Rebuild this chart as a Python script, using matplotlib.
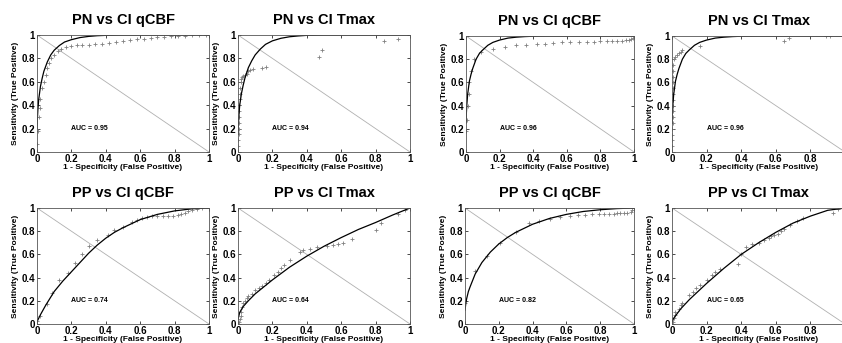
import matplotlib
matplotlib.use("Agg")
from matplotlib import pyplot as plt

plt.rcParams['font.family'] = ['Liberation Sans', 'DejaVu Sans']
plt.rcParams['font.weight'] = 'bold'

titles = ["PN vs CI qCBF", "PN vs CI Tmax", "PN vs CI qCBF", "PN vs CI Tmax",
          "PP vs CI qCBF", "PP vs CI Tmax", "PP vs CI qCBF", "PP vs CI Tmax"]
aucs = ["0.95", "0.94", "0.96", "0.96", "0.74", "0.64", "0.82", "0.65"]

# fitted curves
c1_x = [0, 0.002, 0.005, 0.01, 0.02, 0.03, 0.04, 0.06, 0.08, 0.1, 0.13, 0.16, 0.2, 0.25, 0.3, 0.35, 0.4, 0.5, 1]
c1_y = [0.2, 0.28, 0.36, 0.45, 0.56, 0.63, 0.69, 0.77, 0.83, 0.87, 0.91, 0.94, 0.96, 0.978, 0.988, 0.994, 0.997, 1, 1]
c2_x = [0, 0.002, 0.005, 0.01, 0.02, 0.03, 0.04, 0.06, 0.08, 0.1, 0.13, 0.16, 0.2, 0.25, 0.3, 0.35, 0.4, 0.5, 1]
c2_y = [0.15, 0.23, 0.31, 0.4, 0.5, 0.57, 0.63, 0.72, 0.78, 0.83, 0.88, 0.92, 0.95, 0.972, 0.985, 0.992, 0.997, 1, 1]
c3_x = [0, 0.002, 0.005, 0.01, 0.02, 0.03, 0.04, 0.06, 0.08, 0.1, 0.13, 0.16, 0.2, 0.25, 0.3, 0.35, 0.4, 0.5, 1]
c3_y = [0.25, 0.33, 0.41, 0.5, 0.61, 0.67, 0.72, 0.8, 0.85, 0.88, 0.92, 0.945, 0.965, 0.982, 0.99, 0.995, 0.998, 1, 1]
c4_x = [0, 0.002, 0.005, 0.01, 0.02, 0.03, 0.04, 0.06, 0.08, 0.1, 0.13, 0.16, 0.2, 0.25, 0.3, 0.35, 0.4, 0.5, 1]
c4_y = [0.25, 0.33, 0.41, 0.5, 0.61, 0.67, 0.72, 0.8, 0.85, 0.88, 0.92, 0.945, 0.965, 0.982, 0.99, 0.995, 0.998, 1, 1]
c5_x = [0, 0.01, 0.02, 0.05, 0.1, 0.15, 0.2, 0.25, 0.3, 0.35, 0.4, 0.45, 0.5, 0.6, 0.7, 0.8, 0.9, 1]
c5_y = [0.02, 0.05, 0.08, 0.16, 0.28, 0.37, 0.45, 0.53, 0.61, 0.68, 0.74, 0.79, 0.83, 0.9, 0.945, 0.975, 0.993, 1]
c6_x = [0, 0.005, 0.01, 0.03, 0.06, 0.1, 0.15, 0.2, 0.3, 0.4, 0.5, 0.6, 0.7, 0.8, 0.9, 1]
c6_y = [0.04, 0.07, 0.1, 0.15, 0.2, 0.26, 0.32, 0.38, 0.49, 0.585, 0.67, 0.745, 0.815, 0.875, 0.94, 1]
c7_x = [0, 0.005, 0.01, 0.02, 0.03, 0.06, 0.1, 0.15, 0.2, 0.25, 0.3, 0.4, 0.5, 0.6, 0.7, 0.8, 0.9, 1]
c7_y = [0.12, 0.18, 0.22, 0.28, 0.32, 0.43, 0.53, 0.62, 0.69, 0.745, 0.79, 0.86, 0.91, 0.945, 0.97, 0.985, 0.995, 1]
c8_x = [0, 0.01, 0.02, 0.05, 0.1, 0.2, 0.3, 0.4, 0.5, 0.6, 0.7, 0.8, 0.9, 1]
c8_y = [0.02, 0.05, 0.07, 0.13, 0.21, 0.35, 0.48, 0.6, 0.7, 0.79, 0.87, 0.93, 0.98, 1]

p1_x = [0, 0.005, 0.01, 0.015, 0.02, 0.03, 0.04, 0.05, 0.06, 0.07, 0.08, 0.1, 0.12, 0.14, 0.17, 0.2, 0.23,
        0.26, 0.3, 0.34, 0.38, 0.42, 0.46, 0.5, 0.54, 0.58, 0.62, 0.66, 0.7, 0.74, 0.78, 0.82, 0.86, 0.9, 0.94, 0.98]
p1_y = [0.07, 0.18, 0.3, 0.38, 0.45, 0.55, 0.6, 0.66, 0.72, 0.76, 0.8, 0.83, 0.86, 0.88, 0.9, 0.91, 0.915,
        0.915, 0.915, 0.92, 0.925, 0.93, 0.94, 0.95, 0.96, 0.965, 0.97, 0.975, 0.98, 0.985, 0.99, 0.99, 0.995, 0.997, 1, 1]
p2_x = [0, 0, 0.002, 0.003, 0.004, 0.005, 0.006, 0.007, 0.008, 0.01, 0.012, 0.014, 0.016, 0.02, 0.025, 0.03,
        0.04, 0.05, 0.06, 0.07, 0.09, 0.14, 0.16, 0.47, 0.49, 0.85, 0.93, 1.0]
p2_y = [0, 0.05, 0.1, 0.15, 0.2, 0.25, 0.3, 0.35, 0.4, 0.45, 0.5, 0.55, 0.6, 0.62, 0.64, 0.65,
        0.66, 0.67, 0.69, 0.7, 0.71, 0.715, 0.73, 0.81, 0.87, 0.95, 0.97, 1.0]
p3_x = [0, 0.005, 0.01, 0.015, 0.02, 0.03, 0.05, 0.09, 0.16, 0.23, 0.3, 0.36, 0.42, 0.47, 0.52, 0.57, 0.62,
        0.67, 0.72, 0.76, 0.8, 0.84, 0.87, 0.9, 0.93, 0.95, 0.97, 0.985, 0.993, 1.0]
p3_y = [0.18, 0.28, 0.4, 0.5, 0.6, 0.7, 0.8, 0.86, 0.885, 0.905, 0.92, 0.925, 0.93, 0.935, 0.94, 0.945, 0.945,
        0.948, 0.95, 0.95, 0.953, 0.955, 0.957, 0.96, 0.96, 0.962, 0.965, 0.97, 0.98, 1.0]
p4_x = [0, 0, 0, 0.002, 0.002, 0.003, 0.003, 0.004, 0.004, 0.005, 0.005, 0.006, 0.006, 0.007, 0.008, 0.008,
        0.01, 0.02, 0.03, 0.04, 0.05, 0.06, 0.16, 0.645, 0.675, 0.89, 0.915]
p4_y = [0, 0.05, 0.1, 0.15, 0.2, 0.25, 0.3, 0.35, 0.4, 0.45, 0.5, 0.55, 0.6, 0.65, 0.7, 0.75,
        0.8, 0.82, 0.84, 0.85, 0.86, 0.88, 0.91, 0.96, 0.985, 1.0, 1.0]
p5_x = [0, 0.02, 0.06, 0.09, 0.13, 0.18, 0.22, 0.26, 0.3, 0.35, 0.41, 0.45, 0.5, 0.55, 0.58, 0.61, 0.64, 0.67,
        0.7, 0.73, 0.76, 0.79, 0.82, 0.84, 0.86, 0.88, 0.9, 0.93, 0.96, 1.0]
p5_y = [0.03, 0.07, 0.17, 0.27, 0.38, 0.44, 0.53, 0.6, 0.67, 0.72, 0.77, 0.81, 0.84, 0.88, 0.9, 0.91, 0.92, 0.93,
        0.935, 0.935, 0.935, 0.935, 0.94, 0.95, 0.96, 0.975, 0.985, 0.99, 1.0, 1.0]
p6_x = [0, 0.005, 0.01, 0.015, 0.02, 0.025, 0.03, 0.04, 0.05, 0.06, 0.08, 0.1, 0.12, 0.14, 0.16, 0.18, 0.21, 0.23,
        0.25, 0.27, 0.3, 0.36, 0.38, 0.42, 0.46, 0.52, 0.55, 0.58, 0.61, 0.66, 0.8, 0.83, 0.93, 0.97, 1.0]
p6_y = [0, 0.02, 0.04, 0.07, 0.1, 0.15, 0.18, 0.2, 0.22, 0.24, 0.26, 0.29, 0.31, 0.33, 0.35, 0.38, 0.42, 0.45,
        0.48, 0.51, 0.55, 0.62, 0.64, 0.65, 0.66, 0.67, 0.68, 0.69, 0.7, 0.73, 0.81, 0.87, 0.95, 0.98, 1.0]
p7_x = [0, 0.06, 0.13, 0.21, 0.3, 0.38, 0.44, 0.5, 0.56, 0.62, 0.67, 0.71, 0.75, 0.79, 0.82, 0.85, 0.88, 0.9,
        0.92, 0.94, 0.96, 0.98, 0.99, 1.0]
p7_y = [0.18, 0.46, 0.59, 0.7, 0.79, 0.87, 0.89, 0.905, 0.92, 0.93, 0.94, 0.94, 0.945, 0.945, 0.948, 0.95, 0.952,
        0.955, 0.957, 0.958, 0.96, 0.965, 0.98, 1.0]
p8_x = [0, 0.005, 0.01, 0.015, 0.02, 0.04, 0.05, 0.06, 0.1, 0.12, 0.14, 0.16, 0.2, 0.23, 0.25, 0.28, 0.38, 0.4,
        0.43, 0.46, 0.5, 0.53, 0.56, 0.57, 0.59, 0.61, 0.63, 0.65, 0.68, 0.72, 0.76, 0.93, 0.96]
p8_y = [0, 0.02, 0.05, 0.08, 0.1, 0.13, 0.16, 0.18, 0.25, 0.28, 0.31, 0.34, 0.38, 0.42, 0.45, 0.47, 0.52, 0.6,
        0.66, 0.69, 0.7, 0.72, 0.74, 0.76, 0.77, 0.78, 0.8, 0.82, 0.85, 0.89, 0.91, 0.96, 0.99]

curves = [(c1_x, c1_y), (c2_x, c2_y), (c3_x, c3_y), (c4_x, c4_y),
          (c5_x, c5_y), (c6_x, c6_y), (c7_x, c7_y), (c8_x, c8_y)]
points = [(p1_x, p1_y), (p2_x, p2_y), (p3_x, p3_y), (p4_x, p4_y),
          (p5_x, p5_y), (p6_x, p6_y), (p7_x, p7_y), (p8_x, p8_y)]

W, H = 842, 343
# axes boxes in pixels: left, top, right, bottom
boxes = [(37, 35, 209, 152), (238, 35, 410, 152), (466, 36, 634, 152), (672, 36, 845, 152),
         (37, 208, 209, 324), (238, 208, 410, 324), (465, 208, 634, 324), (672, 208, 845, 324)]

fig = plt.figure(figsize=(W / 100, H / 100), dpi=100)
fig.patch.set_facecolor('white')

ticks = [0, 0.2, 0.4, 0.6, 0.8, 1]
tick_labels = ['0', '0.2', '0.4', '0.6', '0.8', '1']

for i in range(8):
    l, t, r, b = boxes[i]
    ax = fig.add_axes([l / W, 1 - b / H, (r - l) / W, (b - t) / H])
    ax.plot([0, 1], [1, 0], color='#b0b0b0', lw=0.6)
    ax.plot(points[i][0], points[i][1], '+', color='#808080', ms=2.3, mew=0.6)
    ax.plot(curves[i][0], curves[i][1], color='black', lw=0.9)
    ax.text(0.2, 0.2, "AUC = " + aucs[i], fontsize=5, fontweight='bold', va='center')
    ax.set_xlim(0, 1)
    ax.set_ylim(0, 1)
    ax.set_xticks(ticks)
    ax.set_yticks(ticks)
    # the right-most panels run past the picture edge, so their "1" is not seen
    if r > W:
        ax.set_xticklabels(tick_labels[:-1] + [''])
    else:
        ax.set_xticklabels(tick_labels)
    ax.set_yticklabels(tick_labels)
    ax.tick_params(direction='in', length=2, width=0.5, labelsize=7, pad=1.5,
                   top=True, right=True, colors='black')
    for s in ax.spines.values():
        s.set_linewidth(0.6)
        s.set_color('#555555')
    ax.set_title(titles[i], fontsize=10.5, fontweight='bold', pad=8)
    ax.set_xlabel("1 - Specificity (False Positive)", fontsize=6, fontweight='bold', labelpad=0)
    ax.set_ylabel("Sensitivity (True Positive)", fontsize=6, fontweight='bold', labelpad=1.5)

fig.savefig("out.png", dpi=100, facecolor='white')
